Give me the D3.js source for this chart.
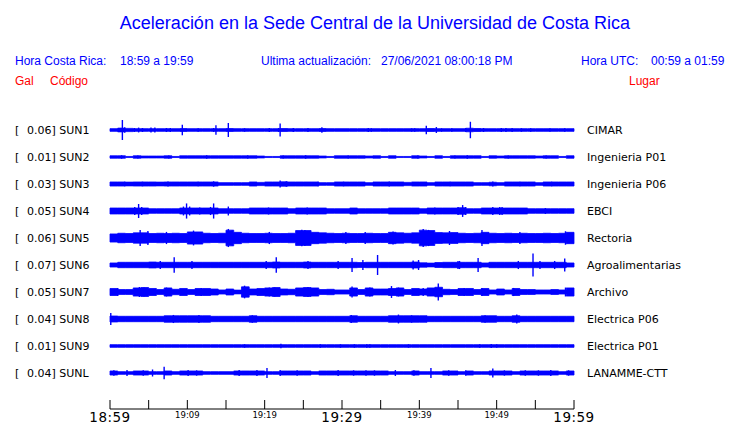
<!DOCTYPE html>
<html><head><meta charset="utf-8">
<script src="https://cdn.jsdelivr.net/npm/d3@7"></script>
<style>
html,body{margin:0;padding:0;background:#fff;}
svg{display:block;}
</style></head>
<body>
<svg id="chart" width="740" height="423"></svg>
<script>
// ---------------- DATA ----------------
const codes = ["SUN1","SUN2","SUN3","SUN4","SUN5","SUN6","SUN7","SUN8","SUN9","SUNL"];
const places = ["CIMAR","Ingenieria P01","Ingenieria P06","EBCI","Rectoria","Agroalimentarias","Archivo","Electrica P06","Electrica P01","LANAMME-CTT"];
const galMax = ["0.06","0.01","0.03","0.05","0.06","0.07","0.05","0.04","0.01","0.04"];
const tickLabels = ["18:59","19:09","19:19","19:29","19:39","19:49","19:59"];
const tickMinutes = [0,10,20,30,40,50,60];
const minorTickMinutes = [0,5,10,15,20,25,30,35,40,45,50,55,60];
const bigLabels = ["18:59","19:29","19:59"];

// Per-minute envelope (half amplitude, normalised to the row band)
const envSUN1 = [0.10,0.14,0.12,0.10,0.10,0.10,0.10,0.10,0.10,0.11, 0.10,0.10,0.10,0.10,0.10,0.11,0.10,0.10,0.10,0.10, 0.10,0.10,0.11,0.10,0.10,0.10,0.10,0.11,0.10,0.10, 0.10,0.10,0.10,0.10,0.10,0.10,0.10,0.10,0.10,0.10, 0.10,0.11,0.10,0.10,0.10,0.10,0.13,0.11,0.10,0.10, 0.10,0.10,0.10,0.10,0.10,0.10,0.10,0.10,0.10,0.10];
const envSUN2 = [0.09,0.09,0.04,0.09,0.07,0.07,0.07,0.09,0.04,0.09, 0.09,0.09,0.09,0.09,0.09,0.09,0.09,0.09,0.09,0.07, 0.04,0.04,0.09,0.09,0.09,0.09,0.09,0.07,0.04,0.09, 0.09,0.09,0.09,0.07,0.09,0.04,0.09,0.04,0.04,0.09, 0.07,0.04,0.09,0.04,0.09,0.09,0.09,0.09,0.04,0.09, 0.07,0.09,0.09,0.09,0.09,0.07,0.09,0.09,0.04,0.09];
const envSUN3 = [0.15,0.15,0.14,0.15,0.15,0.15,0.14,0.15,0.15,0.15, 0.15,0.15,0.15,0.15,0.10,0.10,0.10,0.10,0.15,0.12, 0.15,0.15,0.16,0.15,0.15,0.15,0.15,0.10,0.10,0.15, 0.15,0.15,0.15,0.10,0.15,0.15,0.15,0.15,0.12,0.15, 0.15,0.10,0.15,0.15,0.15,0.15,0.15,0.10,0.10,0.13, 0.10,0.15,0.15,0.15,0.15,0.10,0.15,0.15,0.15,0.15];
const envSUN4 = [0.22,0.22,0.22,0.22,0.22,0.17,0.17,0.17,0.17,0.22, 0.22,0.22,0.22,0.22,0.17,0.17,0.17,0.17,0.22,0.22, 0.22,0.22,0.22,0.17,0.22,0.22,0.22,0.22,0.17,0.17, 0.17,0.22,0.17,0.17,0.17,0.17,0.22,0.22,0.22,0.22, 0.17,0.22,0.22,0.22,0.22,0.24,0.17,0.17,0.22,0.22, 0.22,0.22,0.22,0.22,0.17,0.17,0.17,0.17,0.17,0.17];
const envSUN5 = [0.30,0.35,0.33,0.38,0.38,0.33,0.35,0.33,0.35,0.33, 0.45,0.45,0.35,0.33,0.35,0.58,0.42,0.35,0.33,0.33, 0.35,0.33,0.33,0.35,0.55,0.55,0.42,0.38,0.35,0.33, 0.35,0.33,0.33,0.35,0.33,0.33,0.42,0.38,0.35,0.38, 0.58,0.55,0.40,0.38,0.40,0.35,0.33,0.35,0.42,0.35, 0.33,0.35,0.33,0.35,0.33,0.33,0.35,0.33,0.35,0.42];
const envSUN6 = [0.15,0.20,0.20,0.20,0.20,0.22,0.20,0.20,0.20,0.20, 0.20,0.20,0.20,0.20,0.20,0.20,0.20,0.20,0.20,0.20, 0.20,0.22,0.20,0.20,0.20,0.22,0.20,0.20,0.20,0.20, 0.20,0.20,0.18,0.20,0.20,0.20,0.20,0.20,0.20,0.22, 0.16,0.14,0.18,0.20,0.20,0.20,0.20,0.20,0.15,0.20, 0.20,0.20,0.20,0.20,0.20,0.20,0.20,0.20,0.20,0.15];
const envSUN7 = [0.26,0.18,0.18,0.30,0.33,0.26,0.18,0.30,0.20,0.26, 0.18,0.26,0.26,0.22,0.15,0.22,0.14,0.38,0.22,0.26, 0.30,0.33,0.22,0.20,0.30,0.33,0.30,0.18,0.20,0.15, 0.15,0.30,0.18,0.30,0.22,0.22,0.26,0.30,0.18,0.26, 0.22,0.30,0.35,0.20,0.18,0.26,0.26,0.18,0.26,0.15, 0.22,0.15,0.26,0.18,0.18,0.15,0.15,0.18,0.15,0.30];
const envSUN8 = [0.22,0.20,0.20,0.20,0.20,0.20,0.20,0.24,0.24,0.24, 0.24,0.24,0.24,0.20,0.20,0.20,0.20,0.20,0.24,0.20, 0.20,0.20,0.20,0.20,0.20,0.20,0.20,0.20,0.20,0.20, 0.20,0.24,0.20,0.20,0.20,0.20,0.24,0.24,0.24,0.24, 0.24,0.20,0.20,0.20,0.20,0.20,0.20,0.20,0.24,0.24, 0.20,0.20,0.24,0.20,0.20,0.20,0.20,0.20,0.20,0.20];
const envSUN9 = [0.10,0.10,0.10,0.10,0.10,0.10,0.10,0.10,0.10,0.10, 0.10,0.10,0.10,0.10,0.10,0.10,0.10,0.10,0.10,0.10, 0.10,0.10,0.10,0.10,0.10,0.10,0.10,0.10,0.10,0.10, 0.10,0.10,0.10,0.10,0.10,0.10,0.10,0.10,0.10,0.10, 0.10,0.10,0.10,0.10,0.10,0.10,0.10,0.10,0.10,0.10, 0.10,0.10,0.10,0.10,0.10,0.10,0.10,0.10,0.10,0.10];
const envSUNL = [0.15,0.10,0.10,0.15,0.15,0.10,0.10,0.15,0.10,0.15, 0.15,0.15,0.10,0.10,0.10,0.10,0.15,0.15,0.15,0.15, 0.10,0.10,0.15,0.15,0.15,0.15,0.10,0.15,0.15,0.15, 0.15,0.15,0.15,0.15,0.15,0.15,0.10,0.10,0.10,0.15, 0.10,0.10,0.10,0.15,0.15,0.10,0.15,0.10,0.10,0.15, 0.15,0.15,0.10,0.15,0.15,0.15,0.15,0.15,0.10,0.15];

// Individual peaks: [minute, half amplitude]
const pkSUN1 = [[1.08,.15],[1.6,.74],[1.9,.2],[3.15,.15],[3.7,.18],[4.2,.15],[5.3,.18],[5.8,.18],[7.3,.15],[7.8,.15],[9.35,.39],[11.4,.13],[13.4,.15],[13.7,.35],[15.3,.52],[17.4,.13],[20.6,.15],[21.8,.15],[22.0,.48],[23.7,.15],[25.6,.15],[27.4,.2],[33.4,.15],[33.8,.13],[39.0,.13],[39.4,.13],[40.9,.32],[42.2,.22],[42.9,.13],[44.2,.13],[46.0,.15],[46.6,.61],[48.3,.15],[50.6,.15],[51.2,.15],[52.0,.15],[53.2,.13],[54.4,.13],[56.9,.13],[58.8,.13]];
const pkSUN2 = [[1.5,.13],[3.6,.12],[7.6,.12],[12.5,.13],[17.8,.12],[22.4,.12],[25.3,.13],[30.8,.12],[39.8,.12],[44.6,.12],[46.2,.13],[51.5,.12],[56.4,.12]];
const pkSUN3 = [[1.9,.17],[4.2,.17],[7.5,.19],[11.4,.17],[13.4,.2],[18.4,.15],[22.0,.26],[22.8,.2],[26.9,.17],[30.2,.17],[36.1,.19],[44.0,.17],[49.5,.19],[53.0,.17],[57.1,.17]];
const pkSUN4 = [[3.2,.3],[3.7,.52],[4.1,.3],[9.5,.33],[9.9,.56],[10.3,.33],[11.6,.26],[13.0,.3],[13.4,.56],[15.3,.33],[20.5,.26],[25.5,.26],[41.9,.22],[42.0,.26],[43.6,.22],[45.0,.3],[45.6,.44],[46.0,.3],[49.5,.3],[50.4,.3],[50.7,.3],[53.1,.22],[56.3,.22]];
const pkSUN5 = [[3.9,.6],[4.9,.52],[7.3,.45],[10.8,.55],[15.3,.67],[15.8,.58],[20.6,.45],[24.8,.62],[25.2,.6],[30.5,.45],[33.0,.45],[36.6,.48],[40.5,.67],[41.2,.6],[43.9,.52],[48.1,.6],[53.0,.45],[58.9,.5]];
const pkSUN6 = [[6.5,.3],[8.3,.58],[10.6,.3],[20.2,.3],[21.5,.58],[25.6,.3],[29.5,.3],[31.3,.52],[32.7,.37],[34.6,.74],[39.2,.33],[39.9,.37],[45.0,.3],[45.2,.3],[47.6,.52],[52.8,.3],[54.7,.85],[55.6,.3],[57.5,.3],[58.8,.48]];
const pkSUN7 = [[1.0,.3],[3.8,.37],[4.4,.33],[7.3,.33],[11.8,.3],[17.4,.47],[20.6,.33],[21.3,.33],[25.6,.37],[31.3,.41],[33.6,.33],[36.4,.44],[37.3,.33],[40.5,.3],[42.45,.63],[45.8,.3],[48.1,.3],[52.2,.3],[58.9,.33]];
const pkSUN8 = [[0.1,.44],[8.2,.3],[11.5,.3],[18.4,.28],[31.2,.3],[37.3,.33],[39.0,.28],[48.5,.28],[52.6,.33]];
const pkSUN9 = [[17.4,.13],[22.1,.17],[27.2,.13],[29.8,.13],[31.6,.13],[33.2,.13],[33.6,.13],[38.6,.13],[47.8,.13],[49.3,.15],[50.0,.13]];
const pkSUNL = [[0.5,.2],[2.2,.22],[4.3,.2],[5.5,.26],[7.0,.46],[10.1,.22],[11.2,.2],[16.7,.22],[19.0,.22],[20.3,.37],[22.0,.22],[24.2,.2],[29.5,.22],[31.5,.2],[33.1,.2],[34.2,.2],[36.9,.22],[39.3,.2],[41.5,.37],[43.8,.2],[46.0,.2],[49.5,.33],[51.0,.2],[53.7,.2],[55.4,.2],[57.0,.22],[59.3,.2]];

const envelopes = [envSUN1,envSUN2,envSUN3,envSUN4,envSUN5,envSUN6,envSUN7,envSUN8,envSUN9,envSUNL];
const peaks = [pkSUN1,pkSUN2,pkSUN3,pkSUN4,pkSUN5,pkSUN6,pkSUN7,pkSUN8,pkSUN9,pkSUNL];

// ---------------- DRAW ----------------
const BLUE = "#0000ff", RED = "#ff0000";
const svg = d3.select("#chart");
const SANS = "'Liberation Sans', Arial, sans-serif";
const DJV = "'DejaVu Sans', sans-serif";

const x = d3.scaleLinear().domain([0,60]).range([110,574]);
const row = d3.scalePoint().domain(codes).range([130,373]);
const amp = d3.scaleLinear().domain([-1,1]).range([13.5,-13.5]);

// Title and header
svg.append("text").attr("x",375).attr("y",29).attr("text-anchor","middle")
  .attr("font-family",SANS).attr("font-size",18).attr("fill",BLUE)
  .text("Aceleración en la Sede Central de la Universidad de Costa Rica");
const hdr = [
  {x:15, t:"Hora Costa Rica:"},{x:120, t:"18:59 a 19:59"},
  {x:261, t:"Ultima actualización:"},{x:381, t:"27/06/2021 08:00:18 PM"},
  {x:581, t:"Hora UTC:"},{x:651, t:"00:59 a 01:59"}];
svg.selectAll("text.hdr").data(hdr).join("text").attr("class","hdr")
  .attr("x",d=>d.x).attr("y",65).attr("font-family",SANS).attr("font-size",12)
  .attr("fill",BLUE).text(d=>d.t);
const red = [{x:15,t:"Gal"},{x:50,t:"Código"},{x:629,t:"Lugar"}];
svg.selectAll("text.red").data(red).join("text").attr("class","red")
  .attr("x",d=>d.x).attr("y",85).attr("font-family",SANS).attr("font-size",12)
  .attr("fill",RED).text(d=>d.t);

// Traces
const area = d3.area()
  .x(d=>x(d[0]))
  .y0(d=>amp(-d[1]))
  .y1(d=>amp(d[1]))
  .curve(d3.curveStepAfter);

codes.forEach((c,i)=>{
  const g = svg.append("g").attr("transform",`translate(0,${row(c)})`);
  const env = envelopes[i];
  const full = [...env.map((v,k)=>[k,v]), [60,env[env.length-1]]];
  g.append("path").datum(full).attr("d",area).attr("fill",BLUE).attr("stroke",BLUE).attr("stroke-width",0.8);
  g.selectAll("line.pk").data(peaks[i]).join("line").attr("class","pk")
    .attr("x1",d=>x(d[0])).attr("x2",d=>x(d[0]))
    .attr("y1",d=>amp(d[1])).attr("y2",d=>amp(-d[1]))
    .attr("stroke",BLUE).attr("stroke-width",1.4);
  // labels
  g.append("text").attr("x",15).attr("y",4).attr("font-family",DJV).attr("font-size",11).attr("fill","#000").text("[");
  g.append("text").attr("x",27).attr("y",4).attr("font-family",DJV).attr("font-size",11).attr("fill","#000").text(`${galMax[i]}] ${c}`);
  g.append("text").attr("x",587).attr("y",4).attr("font-family",DJV).attr("font-size",11).attr("fill","#000").text(places[i]);
});

// Time axis
const axisY = 409;
const axG = svg.append("g");
axG.append("line").attr("x1",x(0)).attr("x2",x(60)).attr("y1",axisY).attr("y2",axisY).attr("stroke","#000").attr("stroke-width",1);
axG.selectAll("line.tk").data(minorTickMinutes).join("line").attr("class","tk")
  .attr("x1",d=>x(d)).attr("x2",d=>x(d)).attr("y1",axisY-9).attr("y2",axisY).attr("stroke","#000").attr("stroke-width",1);
axG.selectAll("text.tl").data(tickMinutes).join("text").attr("class","tl")
  .attr("x",d=>x(d)).attr("text-anchor","middle")
  .attr("y",(d,i)=>bigLabels.includes(tickLabels[i])?421.5:418)
  .attr("font-family",DJV)
  .attr("font-size",(d,i)=>bigLabels.includes(tickLabels[i])?13.5:8.5)
  .attr("letter-spacing",(d,i)=>bigLabels.includes(tickLabels[i])?0.5:0)
  .attr("fill","#000")
  .text((d,i)=>tickLabels[i]);
</script>
</body></html>
